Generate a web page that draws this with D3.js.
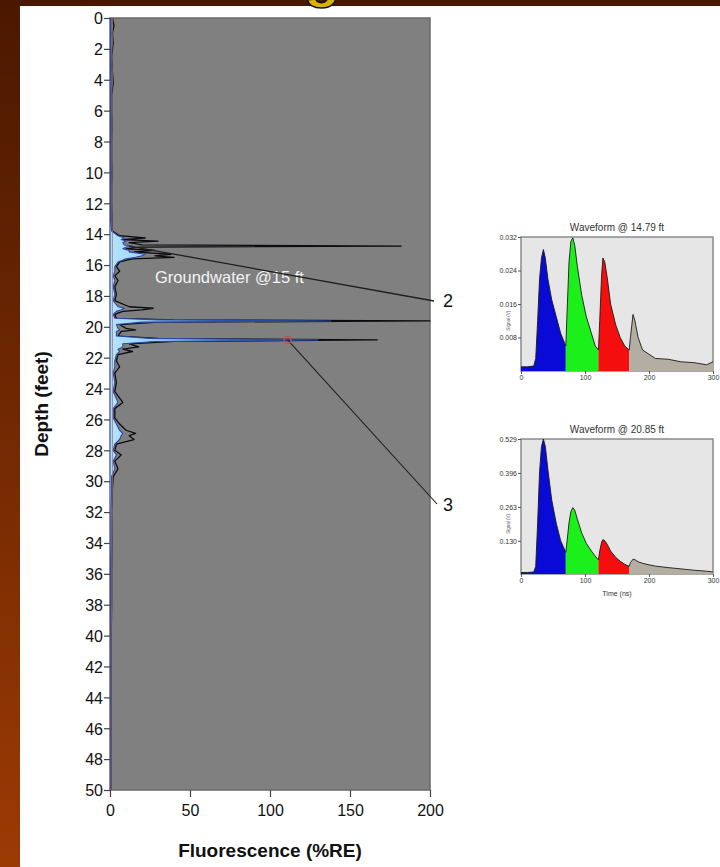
<!DOCTYPE html>
<html>
<head>
<meta charset="utf-8">
<script src="https://cdn.jsdelivr.net/npm/d3@7/dist/d3.min.js"></script>
<style>
  html, body { margin: 0; padding: 0; }
  body { width: 720px; height: 867px; overflow: hidden; background: #4a1800; }
  svg { display: block; }
</style>
</head>
<body>
<svg id="chart" width="720" height="867"></svg>
<script>
// ---- Fluorescence log (depth in feet, %RE) ----
const depthFt = [0, 0.5, 1, 1.6, 2.5, 3.5, 4.2, 5, 6, 7, 8, 9, 10, 11, 12, 13, 13.8,
  14.1, 14.25, 14.35, 14.45, 14.55, 14.7, 14.77, 14.84, 14.95, 15.05, 15.15, 15.3, 15.4, 15.5, 15.6, 15.8,
  16.1, 16.4, 16.7, 17.0, 17.4, 17.9, 18.3, 18.7, 18.8, 18.9, 19.0, 19.2, 19.45, 19.55, 19.62, 19.7, 19.85,
  20.1, 20.2, 20.3, 20.6, 20.75, 20.85, 20.95, 21.1, 21.3, 21.45, 21.6, 21.8, 22.2, 22.6, 23.0, 23.6, 24.2,
  24.9, 25.3, 25.9, 26.3, 26.7, 26.9, 27.05, 27.3, 27.6, 28.0, 28.3, 28.7, 29.2, 29.7, 30.5, 32, 34, 36, 38,
  40, 42, 44, 46, 48, 50];
const totalRE = [1.5, 2.5, 1.5, 2, 1, 1.5, 2, 1, 1, 1.2, 1, 1, 1.2, 1, 1, 1.2, 1.5,
  6, 22, 8, 30, 12, 20, 182, 18, 10, 28, 15, 38, 28, 40, 14, 6,
  4, 6, 3, 5, 3, 4, 3, 12, 27, 20, 8, 3, 4, 40, 200, 30, 6,
  10, 16, 7, 5, 30, 167, 40, 12, 18, 8, 14, 5, 4, 6, 3, 4, 3,
  8, 3, 3, 6, 10, 16, 12, 15, 4, 3, 7, 3, 5, 2, 1.5, 1, 1.2, 1, 1,
  0.8, 0.8, 0.8, 0.8, 0.8, 0.8];
const blueRE = [0.5, 0.5, 0.5, 0.5, 0.5, 0.5, 0.8, 0.5, 0.5, 0.5, 0.5, 0.5, 0.5, 0.5, 0.5, 0.6, 1,
  5, 9, 7, 10, 8, 9, 14, 10, 8, 12, 12, 22, 20, 16, 10, 5,
  3, 3, 2, 3, 2, 3, 2, 5, 9, 7, 4, 2, 3, 30, 138, 20, 4,
  5, 6, 4, 4, 25, 130, 28, 8, 8, 5, 6, 4, 3, 3, 2, 3, 2,
  5, 2, 2, 4, 6, 8, 7, 6, 3, 2, 4, 2, 3, 1, 1, 0.8, 0.8, 0.6, 0.5,
  0.5, 0.5, 0.5, 0.5, 0.5, 0.5];
const depthTicks = d3.range(0, 51, 2);
const reTicks = [0, 50, 100, 150, 200];

// ---- Waveforms (time in ns, signal in V) ----
const timeNs = [0, 10, 20, 23, 26, 29, 32, 35, 38, 42, 48, 55, 62, 70,
  72, 75, 78, 81, 84, 88, 95, 102, 110, 116, 121,
  123, 126, 128, 131, 135, 140, 148, 155, 162, 169,
  171, 175, 178, 183, 190, 200, 210, 230, 250, 270, 290, 300];
const wave1479 = [0.001, 0.001, 0.0012, 0.003, 0.012, 0.022, 0.027, 0.029, 0.027, 0.022, 0.017, 0.013, 0.009, 0.006,
  0.014, 0.026, 0.031, 0.0318, 0.030, 0.025, 0.018, 0.013, 0.009, 0.006, 0.005,
  0.012, 0.023, 0.027, 0.026, 0.022, 0.016, 0.011, 0.008, 0.006, 0.005,
  0.008, 0.0135, 0.012, 0.008, 0.005, 0.004, 0.003, 0.0028, 0.0022, 0.002, 0.0015, 0.0022];
const wave2085 = [0.006, 0.006, 0.008, 0.03, 0.2, 0.4, 0.5, 0.529, 0.5, 0.41, 0.29, 0.2, 0.13, 0.085,
  0.13, 0.2, 0.245, 0.26, 0.25, 0.215, 0.16, 0.12, 0.09, 0.07, 0.055,
  0.09, 0.125, 0.135, 0.13, 0.115, 0.09, 0.065, 0.05, 0.038, 0.03,
  0.045, 0.058, 0.056, 0.048, 0.042, 0.036, 0.031, 0.025, 0.02, 0.015, 0.011, 0.008];
const channelEdges = [0, 70, 121, 169, 300];
const channelColors = ["#0a0ad6", "#1bf01b", "#f40e0e", "#b4ada2"];
const wave1Ticks = [0.008, 0.016, 0.024, 0.032];
const wave2Ticks = [0.130, 0.263, 0.396, 0.529];
const timeTicks = [0, 100, 200, 300];

const svg = d3.select("#chart");
const font = "Liberation Sans, Arial, Helvetica, sans-serif";

// ---- Backdrop ----
const defs = svg.append("defs");
const bg = defs.append("linearGradient").attr("id", "bgGrad")
  .attr("x1", 0).attr("y1", 0).attr("x2", 0).attr("y2", 1);
bg.append("stop").attr("offset", "0%").attr("stop-color", "#4a1800");
bg.append("stop").attr("offset", "100%").attr("stop-color", "#9c3a04");
svg.append("rect").attr("width", 720).attr("height", 867).attr("fill", "url(#bgGrad)");
svg.append("rect").attr("x", 0).attr("y", 0).attr("width", 720).attr("height", 6).attr("fill", "#4a1800");
svg.append("rect").attr("x", 20).attr("y", 6).attr("width", 700).attr("height", 861).attr("fill", "#ffffff");

// descender of the slide heading above
svg.append("text").attr("x", 322).attr("y", -4).attr("text-anchor", "middle")
  .attr("font-family", font).attr("font-weight", "bold").attr("font-size", 60)
  .attr("fill", "#d8b400").attr("stroke", "#111").attr("stroke-width", 1.5)
  .text("g");

// ---- Main log ----
const x = d3.scaleLinear().domain([0, 200]).range([110, 430]);
const y = d3.scaleLinear().domain([0, 50]).range([18, 790]);

svg.append("rect").attr("x", x(0)).attr("y", y(0))
  .attr("width", x(200) - x(0)).attr("height", y(50) - y(0))
  .attr("fill", "#808080").attr("stroke", "#6a6a6a").attr("stroke-width", 1.5);

const clip = defs.append("clipPath").attr("id", "plotClip");
clip.append("rect").attr("x", x(0)).attr("y", y(0))
  .attr("width", x(200) - x(0) + 1).attr("height", y(50) - y(0));

const blueGrad = defs.append("linearGradient").attr("id", "blueGrad")
  .attr("gradientUnits", "userSpaceOnUse")
  .attr("x1", x(0)).attr("y1", 0).attr("x2", x(140)).attr("y2", 0);
blueGrad.append("stop").attr("offset", "0%").attr("stop-color", "#b4e4ff");
blueGrad.append("stop").attr("offset", "45%").attr("stop-color", "#6fb0f0");
blueGrad.append("stop").attr("offset", "100%").attr("stop-color", "#3a66cc");

const logData = depthFt.map((d, i) => ({ d, total: totalRE[i], blue: blueRE[i] }));
const plot = svg.append("g").attr("clip-path", "url(#plotClip)");

// total response drawn as a dark trace
plot.append("path").datum(logData)
  .attr("d", d3.line().y(p => y(p.d)).x(p => x(p.total)))
  .attr("fill", "none").attr("stroke", "#0c0c10").attr("stroke-width", 1.3)
  .attr("stroke-linejoin", "round");

const blueArea = d3.area().y(p => y(p.d)).x0(x(0)).x1(p => x(p.blue));
plot.append("path").datum(logData).attr("d", blueArea)
  .attr("fill", "url(#blueGrad)")
  .attr("stroke", "#2c48a8").attr("stroke-width", 1.1).attr("stroke-linejoin", "round");

// baseline trace along the left edge
plot.append("path").datum(logData)
  .attr("d", d3.line().y(p => y(p.d)).x(p => x(Math.min(p.total, 1.5))))
  .attr("fill", "none").attr("stroke", "#a07060").attr("stroke-width", 0.8);

// axes
const yAxis = svg.append("g").attr("transform", `translate(${x(0)},0)`)
  .call(d3.axisLeft(y).tickValues(depthTicks).tickSize(6).tickPadding(1).tickFormat(d3.format("d")));
const xAxis = svg.append("g").attr("transform", `translate(0,${y(50)})`)
  .call(d3.axisBottom(x).tickValues(reTicks).tickSize(7).tickPadding(8).tickFormat(d3.format("d")));
[yAxis, xAxis].forEach(a => {
  a.select(".domain").remove();
  a.selectAll(".tick line").attr("stroke", "#444").attr("stroke-width", 1.2);
  a.selectAll(".tick text").attr("font-family", font).attr("font-size", 16).attr("fill", "#111");
});
yAxis.selectAll(".tick text").attr("dy", "0.36em");

svg.append("text").attr("transform", `translate(48,${(y(0) + y(50)) / 2}) rotate(-90)`)
  .attr("text-anchor", "middle").attr("font-family", font).attr("font-weight", "bold")
  .attr("font-size", 19).attr("fill", "#111").text("Depth (feet)");
svg.append("text").attr("x", 270).attr("y", 857).attr("text-anchor", "middle")
  .attr("font-family", font).attr("font-weight", "bold").attr("font-size", 19)
  .attr("fill", "#111").text("Fluorescence (%RE)");

svg.append("text").attr("x", 155).attr("y", 283)
  .attr("font-family", font).attr("font-size", 16.5).attr("fill", "#f4f4f4")
  .text("Groundwater @15 ft");

// callout leaders to the waveform panels
svg.append("line").attr("x1", x(12)).attr("y1", y(14.77)).attr("x2", 434).attr("y2", 301)
  .attr("stroke", "#1e1e1e").attr("stroke-width", 1.3);
svg.append("line").attr("x1", x(111)).attr("y1", y(20.85)).attr("x2", 437).attr("y2", 504)
  .attr("stroke", "#1e1e1e").attr("stroke-width", 1.1);
svg.append("circle").attr("cx", x(111)).attr("cy", y(20.85)).attr("r", 3.5)
  .attr("fill", "none").attr("stroke", "#d84a4a").attr("stroke-width", 1.2);
svg.append("text").attr("x", 443).attr("y", 307).attr("font-family", font)
  .attr("font-size", 18).attr("fill", "#111").text("2");
svg.append("text").attr("x", 443).attr("y", 511).attr("font-family", font)
  .attr("font-size", 18).attr("fill", "#111").text("3");

// ---- Waveform panels ----
function drawWaveform(opts) {
  const wx = d3.scaleLinear().domain([0, 300]).range([521, 713]);
  const wy = d3.scaleLinear().domain([0, opts.max]).range([opts.bottom, opts.top]);
  const g = svg.append("g");
  g.append("rect").attr("x", wx(0)).attr("y", wy(opts.max))
    .attr("width", wx(300) - wx(0)).attr("height", wy(0) - wy(opts.max))
    .attr("fill", "#e6e6e6").attr("stroke", "#8a8a8a").attr("stroke-width", 1.5);
  const pts = timeNs.map((t, i) => ({ t, v: opts.values[i] }));
  channelColors.forEach((c, k) => {
    const seg = pts.filter(p => p.t >= channelEdges[k] && p.t <= channelEdges[k + 1]);
    g.append("path").datum(seg)
      .attr("d", d3.area().x(p => wx(p.t)).y0(wy(0)).y1(p => wy(p.v)))
      .attr("fill", c);
  });
  g.append("path").datum(pts)
    .attr("d", d3.line().x(p => wx(p.t)).y(p => wy(p.v)))
    .attr("fill", "none").attr("stroke", "#1a1a1a").attr("stroke-width", 0.9);

  const ya = g.append("g").attr("transform", `translate(${wx(0)},0)`)
    .call(d3.axisLeft(wy).tickValues(opts.ticks).tickSize(3).tickPadding(1).tickFormat(d3.format(".3f")));
  const xa = g.append("g").attr("transform", `translate(0,${wy(0)})`)
    .call(d3.axisBottom(wx).tickValues(timeTicks).tickSize(3).tickPadding(1).tickFormat(d3.format("d")));
  [ya, xa].forEach(a => {
    a.select(".domain").remove();
    a.selectAll(".tick line").attr("stroke", "#555");
    a.selectAll(".tick text").attr("font-family", font).attr("font-size", 7).attr("fill", "#333");
  });
  g.append("text").attr("x", 617).attr("y", opts.top - 6).attr("text-anchor", "middle")
    .attr("font-family", font).attr("font-size", 10).attr("fill", "#333").text(opts.title);
  const midLabel = (wy(opts.ticks[0]) + wy(opts.ticks[1])) / 2;
  g.append("text").attr("transform", `translate(510,${midLabel}) rotate(-90)`)
    .attr("text-anchor", "middle").attr("font-family", font).attr("font-size", 4.5)
    .attr("fill", "#666").text("Signal (V)");
  if (opts.xlabel) {
    g.append("text").attr("x", 617).attr("y", opts.bottom + 22).attr("text-anchor", "middle")
      .attr("font-family", font).attr("font-size", 7).attr("fill", "#333").text(opts.xlabel);
  }
}

drawWaveform({ title: "Waveform @ 14.79 ft", values: wave1479, max: 0.032, ticks: wave1Ticks, top: 237, bottom: 371 });
drawWaveform({ title: "Waveform @ 20.85 ft", values: wave2085, max: 0.529, ticks: wave2Ticks, top: 439, bottom: 574, xlabel: "Time (ns)" });
</script>
</body>
</html>
